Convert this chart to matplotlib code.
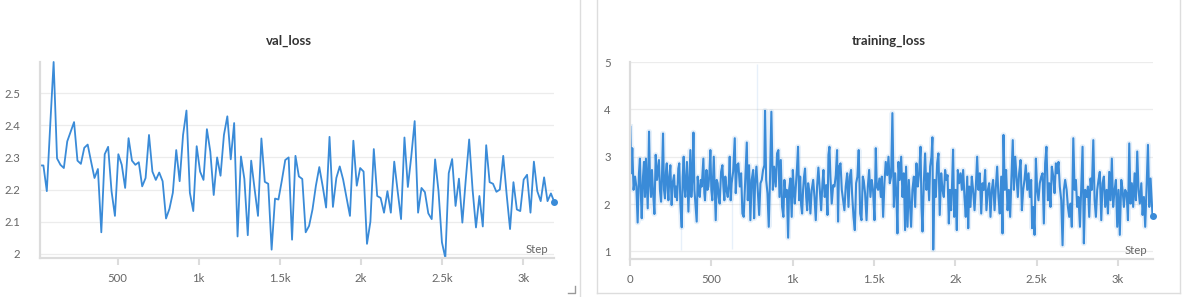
import matplotlib
matplotlib.use("Agg")
import matplotlib.pyplot as plt
from matplotlib.lines import Line2D

# ---------------- data ----------------
val_loss = [2.275, 2.275, 2.195, 2.40, 2.597, 2.297, 2.277, 2.267, 2.35, 2.38,
            2.41, 2.29, 2.28, 2.33, 2.34, 2.287, 2.236, 2.264, 2.067, 2.31,
            2.333, 2.195, 2.118, 2.31, 2.277, 2.205, 2.36, 2.29, 2.277, 2.285,
            2.21, 2.236, 2.37, 2.256, 2.23, 2.253, 2.226, 2.11, 2.14, 2.19,
            2.323, 2.226, 2.37, 2.446, 2.19, 2.133, 2.335, 2.256, 2.23, 2.388,
            2.318, 2.183, 2.30, 2.243, 2.37, 2.428, 2.294, 2.407, 2.054, 2.303,
            2.233, 2.058, 2.29, 2.202, 2.118, 2.359, 2.224, 2.218, 2.013, 2.172,
            2.169, 2.228, 2.292, 2.30, 2.044, 2.305, 2.241, 2.233, 2.067, 2.087,
            2.138, 2.212, 2.27, 2.21, 2.144, 2.364, 2.146, 2.236, 2.272, 2.231,
            2.174, 2.118, 2.352, 2.212, 2.267, 2.256, 2.031, 2.10, 2.326, 2.18,
            2.174, 2.128, 2.195, 2.128, 2.287, 2.195, 2.108, 2.362, 2.208, 2.303,
            2.413, 2.128, 2.205, 2.192, 2.126, 2.108, 2.294, 2.195, 2.036, 1.987,
            2.251, 2.295, 2.149, 2.234, 2.097, 2.231, 2.356, 2.20, 2.082, 2.18,
            2.085, 2.338, 2.223, 2.218, 2.193, 2.20, 2.305, 2.185, 2.077, 2.223,
            2.138, 2.133, 2.231, 2.246, 2.128, 2.287, 2.195, 2.164, 2.238, 2.164,
            2.188, 2.161]
val_interval = 21
val_steps = [val_interval * (i + 1) for i in range(len(val_loss))]

# (step, loss) readings of the training curve
train_points = [
    (2, 3.63), (8, 2.65), (14, 3.18), (22, 2.30), (31, 2.58), (39, 2.37), (47, 1.61), (55, 2.65), (61, 2.96), (68, 2.08),
    (72, 1.70), (80, 2.58), (86, 2.89), (92, 2.15), (98, 2.96), (105, 2.30), (109, 1.91), (117, 3.53), (123, 2.44), (129, 2.15),
    (135, 2.72), (141, 2.30), (150, 1.79), (158, 3.04), (166, 2.51), (172, 2.72), (178, 2.93), (184, 2.30), (191, 2.05), (197, 2.65),
    (203, 3.49), (209, 2.30), (215, 2.12), (221, 2.68), (226, 2.86), (232, 2.30), (236, 2.08), (242, 2.58), (248, 2.82), (256, 1.98),
    (262, 2.44), (271, 2.61), (277, 2.15), (283, 2.37), (289, 2.08), (297, 2.75), (303, 2.86), (310, 1.98), (318, 1.51), (324, 2.58),
    (330, 3.00), (336, 2.30), (340, 2.15), (346, 2.58), (350, 2.89), (359, 1.84), (365, 2.51), (371, 3.14), (377, 2.15), (383, 2.51),
    (390, 3.51), (396, 2.30), (402, 2.01), (410, 1.63), (416, 2.58), (422, 2.30), (429, 2.15), (435, 2.51), (441, 2.37), (447, 2.72),
    (451, 2.96), (457, 2.23), (461, 2.08), (470, 2.72), (476, 2.30), (482, 2.37), (488, 2.65), (494, 3.14), (500, 2.30), (506, 2.08),
    (515, 3.00), (521, 2.30), (527, 1.66), (533, 2.51), (539, 2.44), (545, 2.15), (551, 2.01), (560, 2.68), (568, 2.82), (574, 2.37),
    (580, 2.08), (586, 2.58), (593, 2.30), (601, 2.15), (607, 2.44), (613, 3.00), (619, 2.08),
    (625, 2.44), (634, 2.68), (644, 3.39), (650, 2.23), (658, 2.82), (666, 2.86), (675, 2.37), (683, 2.65), (691, 1.80), (699, 1.73),
    (707, 2.37), (718, 3.30), (724, 2.08), (732, 2.82), (740, 1.66), (748, 2.51), (757, 2.72), (763, 1.70), (769, 2.44), (777, 2.79),
    (785, 2.30), (794, 1.77), (802, 2.44), (810, 2.51), (818, 2.72), (826, 2.82), (830, 3.97), (837, 2.51), (845, 2.23), (853, 1.52),
    (861, 2.58), (869, 3.95), (878, 2.30), (886, 2.79), (896, 2.37), (904, 3.07), (912, 3.14), (919, 2.15), (927, 2.93), (935, 1.94),
    (943, 1.73), (949, 2.51), (958, 2.15), (964, 2.30), (972, 1.29), (978, 2.30), (986, 2.54), (994, 1.73), (1001, 2.72), (1007, 2.30),
    (1013, 2.01), (1021, 2.47), (1027, 2.79), (1033, 3.21), (1040, 2.08), (1046, 2.58), (1052, 1.98), (1058, 1.80), (1064, 2.30), (1070, 2.58),
    (1076, 2.75), (1083, 2.15), (1089, 1.87), (1095, 2.44), (1101, 2.30), (1109, 1.80), (1117, 2.30), (1126, 2.51), (1134, 2.15), (1142, 1.66),
    (1150, 2.37), (1158, 2.77), (1167, 2.30), (1175, 1.87), (1183, 2.44), (1189, 2.72), (1197, 2.15), (1206, 2.40), (1214, 1.77), (1220, 3.04),
    (1226, 3.21), (1232, 2.58), (1240, 2.01), (1249, 2.40),
    (1257, 2.37), (1265, 2.61), (1273, 3.14), (1279, 1.63), (1285, 2.79), (1294, 2.86), (1302, 2.30), (1310, 2.08), (1318, 1.87), (1326, 2.37),
    (1335, 2.65), (1343, 1.94), (1351, 2.58), (1359, 2.72), (1365, 2.23), (1374, 1.73), (1382, 1.45), (1390, 2.44), (1398, 2.58), (1406, 3.14),
    (1415, 1.80), (1423, 1.66), (1431, 2.58), (1437, 2.49), (1445, 2.23), (1454, 1.66), (1462, 2.37), (1470, 2.72), (1478, 2.15), (1486, 2.51),
    (1494, 2.30), (1503, 1.66), (1511, 3.18), (1517, 2.37), (1525, 2.30), (1533, 2.54), (1542, 2.15), (1548, 2.58), (1556, 1.73), (1564, 2.44),
    (1572, 2.89), (1581, 2.61), (1589, 3.00), (1597, 2.44), (1605, 2.58), (1613, 3.92), (1622, 1.94), (1630, 2.65), (1638, 2.15), (1644, 1.38),
    (1650, 2.89), (1658, 2.51), (1667, 3.00), (1675, 2.15), (1683, 2.65), (1691, 1.45), (1697, 2.79), (1706, 1.52), (1714, 2.51), (1722, 1.94),
    (1728, 1.52), (1736, 2.30), (1745, 2.58), (1753, 1.94), (1761, 2.86), (1769, 2.37), (1777, 2.65), (1786, 3.21), (1792, 1.94), (1798, 1.42),
    (1806, 2.44), (1814, 3.07), (1822, 2.30), (1831, 2.65), (1839, 2.08), (1845, 2.79), (1853, 3.00), (1859, 3.41), (1864, 1.04), (1872, 2.51),
    (1880, 2.15), (1888, 2.86),
    (1896, 3.07), (1904, 1.77), (1913, 2.65), (1921, 2.30), (1929, 2.15), (1937, 2.72), (1945, 2.51), (1952, 2.61), (1960, 1.59), (1966, 2.30),
    (1974, 1.87), (1980, 2.44), (1986, 3.15), (1993, 1.73), (2001, 2.30), (2009, 1.45), (2015, 2.72), (2023, 2.44), (2032, 2.65), (2040, 2.30),
    (2048, 2.72), (2056, 2.15), (2064, 1.73), (2073, 2.58), (2079, 1.49), (2085, 2.37), (2093, 1.94), (2101, 2.58), (2109, 2.30), (2118, 1.87),
    (2126, 2.37), (2134, 3.00), (2142, 2.30), (2150, 2.65), (2159, 1.80), (2167, 2.44), (2175, 2.30), (2183, 2.72), (2191, 1.87), (2200, 2.30),
    (2208, 2.44), (2216, 1.73), (2224, 2.30), (2232, 2.51), (2241, 1.87), (2249, 2.37), (2257, 2.79), (2265, 2.15), (2273, 1.80), (2282, 2.58),
    (2290, 1.38), (2296, 3.46), (2304, 2.30), (2312, 2.72), (2321, 1.87), (2329, 2.30), (2337, 1.73), (2345, 2.58), (2353, 3.35), (2360, 2.30),
    (2368, 3.00), (2376, 2.58), (2384, 2.15), (2392, 2.65), (2401, 2.93), (2409, 1.87), (2417, 2.30), (2425, 2.51), (2433, 2.82), (2442, 2.30),
    (2450, 2.65), (2458, 2.15), (2466, 2.51), (2472, 1.49), (2478, 1.94), (2487, 1.35), (2495, 2.96), (2503, 2.30), (2511, 2.08), (2519, 2.44),
    (2528, 2.58),
    (2536, 2.65), (2544, 1.59), (2552, 2.86), (2560, 3.21), (2569, 2.08), (2577, 2.44), (2585, 1.94), (2593, 2.79), (2602, 2.58), (2610, 2.23),
    (2618, 2.86), (2626, 2.65), (2634, 2.89), (2642, 2.37), (2651, 2.08), (2659, 1.13), (2667, 2.30), (2675, 2.51), (2684, 2.30), (2692, 1.94),
    (2700, 1.73), (2708, 2.01), (2716, 1.52), (2725, 3.39), (2733, 2.30), (2741, 2.51), (2749, 1.94), (2757, 2.15), (2766, 1.52), (2774, 2.37),
    (2782, 3.21), (2790, 1.17), (2798, 2.30), (2807, 2.15), (2815, 2.37), (2823, 1.73), (2831, 2.54), (2839, 2.30), (2848, 3.35), (2856, 2.08),
    (2864, 1.73), (2872, 2.30), (2880, 2.51), (2888, 2.68), (2897, 1.66), (2905, 2.44), (2913, 2.58), (2921, 1.94), (2930, 2.30), (2938, 1.80),
    (2946, 2.68), (2954, 2.08), (2962, 2.96), (2970, 1.94), (2979, 2.30), (2987, 2.51), (2995, 1.52), (3003, 2.30), (3011, 1.35), (3020, 2.51),
    (3028, 2.30), (3036, 1.94), (3044, 2.30), (3053, 2.23), (3061, 1.66), (3069, 3.28), (3077, 2.01), (3085, 2.44), (3093, 1.94), (3102, 2.65),
    (3110, 2.08), (3118, 3.11), (3126, 2.30), (3134, 2.01), (3143, 2.44), (3151, 1.77), (3159, 2.15), (3167, 1.52), (3175, 2.30), (3184, 3.25),
    (3192, 1.94), (3200, 2.54), (3206, 2.15), (3212, 1.75),
]
train_steps = [s for s, _ in train_points]
train_loss = [v for _, v in train_points]

# faint raw-value excursions visible behind the curve
raw_spike_steps = [312, 626, 780]
raw_spike_low = [1.03, 1.06, 2.40]
raw_spike_high = [2.30, 2.30, 4.95]

val_yticks = [2.0, 2.1, 2.2, 2.3, 2.4, 2.5]
val_yticklabels = ["2", "2.1", "2.2", "2.3", "2.4", "2.5"]
train_yticks = [1, 2, 3, 4, 5]
train_yticklabels = ["1", "2", "3", "4", "5"]
xticks = [0, 500, 1000, 1500, 2000, 2500, 3000]
xticklabels = ["0", "500", "1k", "1.5k", "2k", "2.5k", "3k"]

# ---------------- style ----------------
W, H = 1185, 297
LINE = "#3a8bd8"
GRID = "#ececec"
AXIS = "#dcdcdc"
TICKTXT = "#666666"
FONT = "Lato"
plt.rcParams["font.family"] = [FONT, "DejaVu Sans"]

fig = plt.figure(figsize=(W / 100, H / 100), dpi=100)
fig.patch.set_facecolor("white")


def px_axes(x0, x1, ytop, ybot):
    return fig.add_axes([x0 / W, 1 - ybot / H, (x1 - x0) / W, (ybot - ytop) / H])


def style(ax, yticks, ylabels, xlim, ylim):
    ax.set_xlim(*xlim)
    ax.set_ylim(*ylim)
    for s in ("top", "right"):
        ax.spines[s].set_visible(False)
    for s in ("left", "bottom"):
        ax.spines[s].set_color(AXIS)
        ax.spines[s].set_linewidth(1.6)
    ax.set_yticks(yticks)
    ax.set_yticklabels(ylabels)
    xt = [t for t in xticks if xlim[0] <= t <= xlim[1]]
    ax.set_xticks(xt)
    ax.set_xticklabels([xticklabels[xticks.index(t)] for t in xt])
    ax.tick_params(axis="x", length=5, width=1.5, color=AXIS, labelsize=8.2,
                   labelcolor=TICKTXT, pad=6)
    ax.tick_params(axis="y", length=0, labelsize=8.2, labelcolor=TICKTXT, pad=14)
    ax.grid(axis="y", color=GRID, linewidth=0.9)
    ax.set_axisbelow(True)
    ax.text(0.988, 0.045, "Step", transform=ax.transAxes, ha="right", va="center",
            fontsize=8.2, color=TICKTXT)


# left panel: val_loss
ax1 = px_axes(40, 554, 62, 258)
style(ax1, val_yticks, val_yticklabels, (val_steps[0], 3190),
      (min(val_loss), max(val_loss)))
ax1.plot(val_steps, val_loss, color=LINE, linewidth=1.3, clip_on=False)
ax1.plot([val_steps[-1]], [val_loss[-1]], "o", color=LINE, markersize=4, clip_on=False)
fig.text(289 / W, 1 - 41 / H, "val_loss", ha="center", va="center",
         fontsize=9.5, color="#333333", fontweight="bold")

# right panel: training_loss
ax2 = px_axes(630, 1153, 62, 259)
style(ax2, train_yticks, train_yticklabels, (0, 3215), (0.84, 5.0))
ax2.vlines(raw_spike_steps, raw_spike_low, raw_spike_high, color=LINE, alpha=0.12,
           linewidth=1.0)
ax2.plot(train_steps, train_loss, color=LINE, linewidth=4.0, alpha=0.12)
ax2.plot(train_steps, train_loss, color=LINE, linewidth=1.5)
ax2.plot([train_steps[-1]], [train_loss[-1]], "o", color=LINE, markersize=4, clip_on=False)
fig.text(888.5 / W, 1 - 41 / H, "training_loss", ha="center", va="center",
         fontsize=9.5, color="#333333", fontweight="bold")

# panel frames
BORDER = "#dddddd"
fig.add_artist(Line2D([580 / W, 580 / W], [0, 1], color=BORDER, linewidth=1.0))
fig.add_artist(Line2D([597 / W, 597 / W], [1 - 293 / H, 1], color=BORDER, linewidth=1.0))
fig.add_artist(Line2D([1180 / W, 1180 / W], [1 - 293 / H, 1], color=BORDER, linewidth=1.0))
fig.add_artist(Line2D([597 / W, 1180 / W], [1 - 293 / H, 1 - 293 / H], color=BORDER,
                      linewidth=1.0))
# resize corner mark of left panel
fig.add_artist(Line2D([568 / W, 575 / W, 575 / W],
                      [1 - 293 / H, 1 - 293 / H, 1 - 286 / H], color="#999999",
                      linewidth=1.0))

fig.savefig("out.png", dpi=100, facecolor="white")
